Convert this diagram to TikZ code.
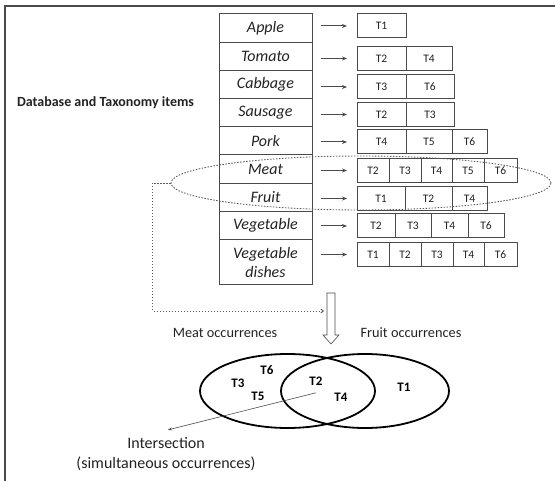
\documentclass[tikz,border=0pt]{standalone}
\usepackage{fontspec}
\setmainfont{Carlito}
\usetikzlibrary{arrows.meta, positioning, shapes.geometric}

\definecolor{linegray}{HTML}{4A4A4A}
\definecolor{textgray}{HTML}{222222}
\definecolor{dotgray}{HTML}{5A5A5A}

\begin{document}
\begin{tikzpicture}[x=1pt, y=-1pt,
    item/.style={draw=linegray, line width=1pt, minimum width=93pt, inner sep=0pt, outer sep=0pt, align=center, text=textgray, font=\fontsize{16}{19}\selectfont\itshape},
    cell/.style={draw=linegray, line width=1pt, minimum height=24pt, inner sep=0pt, outer sep=0pt, text=textgray, font=\fontsize{11.5}{13}\selectfont},
    feed/.style={-{Stealth[length=5pt, width=4pt]}, linegray, line width=1pt, shorten <=9pt, shorten >=10pt},
    link/.style={-{Straight Barb[length=2.5pt, width=4pt]}, dotgray, line width=0.9pt, dash pattern=on 1.5pt off 1.5pt},
    note/.style={text=textgray, font=\fontsize{14.3}{17}\selectfont},
    venn/.style={ellipse, draw=black, line width=1.8pt, minimum height=74pt, inner sep=0pt},
    member/.style={text=black, font=\bfseries\fontsize{13}{15}\selectfont},
    pointer/.style={-{Stealth[length=4pt, width=3pt]}, linegray, line width=0.6pt}]

    \useasboundingbox (0,0) rectangle (555,481);

    % frame
    \draw[linegray, line width=1.5pt] (5,481) -- (5,6) -- (555,6);

    % heading on the left
    \node[font=\bfseries\fontsize{14}{17}\selectfont, text=textgray] (heading) at (105.5,103) {Database and Taxonomy items};

    % items and their occurrence lists
    \foreach \name/\txt/\iy/\h/\cy/\cells in {
        apple/Apple/28.1/28.2/26/{T1/49},
        tomato/Tomato/56.3/28.2/58.5/{T2/49,T4/46},
        cabbage/Cabbage/84.5/28.2/87/{T3/49,T6/48},
        sausage/Sausage/112.7/28.2/114.5/{T2/49,T3/48},
        pork/Pork/140.9/28.2/142/{T4/49,T5/46,T6/35},
        meat/Meat/169.1/28.2/170.5/{T2/32,T3/32,T4/31,T5/32,T6/33},
        fruit/Fruit/197.3/28.2/198.5/{T1/48,T2/47,T4/35},
        vegetable/Vegetable/225.5/28.2/226/{T2/38,T3/36,T4/37,T6/36},
        vegdishes/{Vegetable\\dishes}/262.1/45/254.5/{T1/32,T2/32,T3/32,T4/31,T6/33}}{
      \node[item, minimum height=\h pt] (\name) at (265.5,\iy) {\txt};
      \foreach \t/\w [count=\j, remember=\j as \k (initially 0)] in \cells {
        \ifnum\j=1
          \node[cell, minimum width=\w pt, anchor=west] (\name-\j) at (357,\cy) {\t};
        \else
          \node[cell, minimum width=\w pt, right=0pt of \name-\k] (\name-\j) {\t};
        \fi
      }
      \draw[feed] (\name.east |- \name-1.west) -- (\name-1.west);
    }

    % selected taxonomy items
    \node[ellipse, draw=dotgray, line width=0.9pt, dash pattern=on 1.5pt off 1.5pt, minimum width=380pt, minimum height=54pt, inner sep=0pt] (selection) at (361,183) {};

    % merge arrow
    \draw[linegray, line width=0.6pt, fill=white] (327,293) -- (335,293) -- (335,335) -- (339,335) -- (331,344) -- (323,335) -- (327,335) -- cycle;
    \coordinate (merge) at (324,311);
    \draw[link] (selection.west) -- ++(-18,0) |- (merge);

    \node[note] (meatocc) at (225,333) {Meat occurrences};
    \node[note] (fruitocc) at (411,333) {Fruit occurrences};

    % Venn diagram of the two occurrence sets
    \node[venn, minimum width=175pt] (meatset) at (287.5,391) {};
    \node[venn, minimum width=168pt] (fruitset) at (365,391) {};

    \node[member] (m6) at (267,370) {T6};
    \node[member] (m3) at (238,383) {T3};
    \node[member] (m5) at (258,396) {T5};
    \node[member] (m2) at (316,381) {T2};
    \node[member] (m4) at (341,397) {T4};
    \node[member] (m1) at (404,387) {T1};

    \node[note, align=center, font=\fontsize{16}{20}\selectfont] (isect) at (166,454) {Intersection\\(simultaneous occurrences)};
    \draw[pointer] ([yshift=-4pt]m2.south) -- ([xshift=2pt, yshift=4pt]isect.north);
\end{tikzpicture}
\end{document}
